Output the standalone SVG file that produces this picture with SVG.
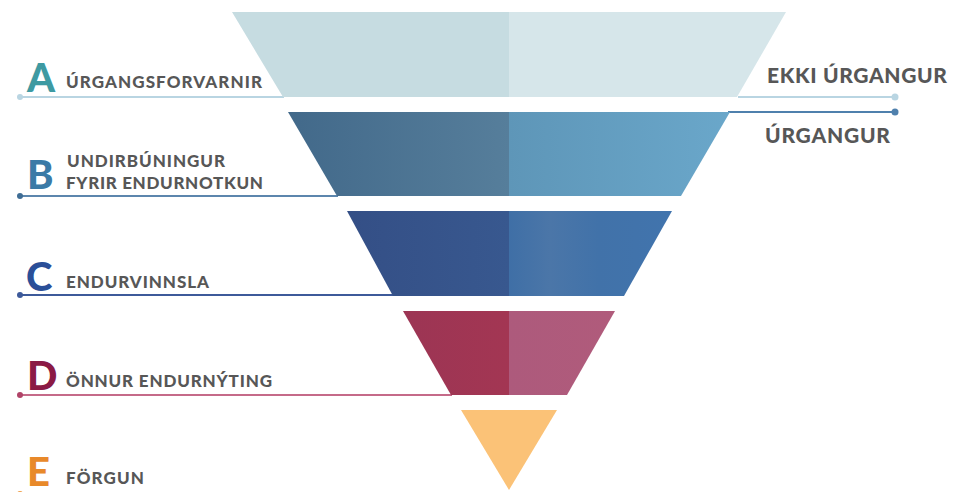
<svg xmlns="http://www.w3.org/2000/svg" width="954" height="492" viewBox="0 0 954 492">
<defs>
<linearGradient id="gBL" x1="0" x2="1" y1="0" y2="0"><stop offset="0" stop-color="#42698a"/><stop offset="1" stop-color="#567e9b"/></linearGradient>
<linearGradient id="gBR" x1="0" x2="1" y1="0" y2="0"><stop offset="0" stop-color="#5e96b8"/><stop offset="1" stop-color="#6aa7ca"/></linearGradient>
<linearGradient id="gCL" x1="0" x2="1" y1="0" y2="0"><stop offset="0" stop-color="#344f86"/><stop offset="1" stop-color="#38588f"/></linearGradient>
<linearGradient id="gCR" x1="0" x2="1" y1="0" y2="0"><stop offset="0" stop-color="#3f6fa6"/><stop offset="0.25" stop-color="#4b76a8"/><stop offset="0.55" stop-color="#4172a9"/><stop offset="1" stop-color="#4174ad"/></linearGradient>
<linearGradient id="gDL" x1="0" x2="1" y1="0" y2="0"><stop offset="0" stop-color="#9c3554"/><stop offset="1" stop-color="#a33653"/></linearGradient>
<linearGradient id="gDR" x1="0" x2="1" y1="0" y2="0"><stop offset="0" stop-color="#ad5a7c"/><stop offset="1" stop-color="#b05b7b"/></linearGradient>
</defs>
<style>
.lbl{font-family:Lato,"Open Sans","Liberation Sans",sans-serif;font-weight:900;fill:#575757;font-size:17px}
.big{font-family:Lato,"Liberation Sans",sans-serif;font-weight:900;font-size:40px}
.side{font-family:Lato,"Open Sans","Liberation Sans",sans-serif;font-weight:900;fill:#575757;font-size:21px}
.ln{stroke-width:2;fill:none}
</style>
<g id="connectors">
<line class="ln" x1="20" y1="97" x2="284" y2="97" stroke="#b9d5e2"/>
<circle cx="20" cy="97" r="3" fill="#b9d5e2"/>
<line class="ln" x1="738" y1="97" x2="895" y2="97" stroke="#b9d5e2"/>
<circle cx="895" cy="97" r="3.5" fill="#b9d5e2"/>
<line class="ln" x1="728" y1="112" x2="895" y2="112" stroke="#4f80ad"/>
<circle cx="895" cy="112" r="3.5" fill="#4f80ad"/>
<line class="ln" x1="20" y1="196" x2="338" y2="196" stroke="#5c86ad"/>
<circle cx="20" cy="196" r="3" fill="#3f6d95"/>
<line class="ln" x1="20" y1="295" x2="400" y2="295" stroke="#3d5a9a"/>
<circle cx="20" cy="295" r="3" fill="#3d5a9a"/>
<line class="ln" x1="20" y1="395" x2="452" y2="395" stroke="#c56a89"/>
<circle cx="20" cy="395" r="3" fill="#b04468"/>
<circle cx="20" cy="494" r="3" fill="#f0a04a"/>
</g>
<g id="layer-a">
<polygon points="232,12 509,12 509,97 283,97" fill="#c6dce1"/>
<polygon points="509,12 786,12 737,97 509,97" fill="#d6e6ea"/>
<text class="big" x="27" y="92" fill="#3e9aa2">A</text>
<text class="lbl" x="66" y="88" textLength="196" lengthAdjust="spacing">ÚRGANGSFORVARNIR</text>
</g>
<g id="layer-b">
<polygon points="288,112 509,112 509,196 337,196" fill="url(#gBL)"/>
<polygon points="509,112 730,112 681,196 509,196" fill="url(#gBR)"/>
<text class="big" x="27" y="189" fill="#3b7aa6">B</text>
<text class="lbl" x="67" y="167" textLength="158" lengthAdjust="spacing">UNDIRBÚNINGUR</text>
<text class="lbl" x="66" y="189" textLength="197" lengthAdjust="spacing">FYRIR ENDURNOTKUN</text>
</g>
<g id="layer-c">
<polygon points="347,211 509,211 509,296 393,296" fill="url(#gCL)"/>
<polygon points="509,211 672,211 624,296 509,296" fill="url(#gCR)"/>
<text class="big" x="26" y="291" fill="#2a4f98">C</text>
<text class="lbl" x="66" y="288" textLength="143" lengthAdjust="spacing">ENDURVINNSLA</text>
</g>
<g id="layer-d">
<polygon points="403,311 509,311 509,395 451,395" fill="url(#gDL)"/>
<polygon points="509,311 615,311 567,395 509,395" fill="url(#gDR)"/>
<text class="big" x="27" y="390" fill="#8b1a45">D</text>
<text class="lbl" x="66" y="387" textLength="206" lengthAdjust="spacing">ÖNNUR ENDURNÝTING</text>
</g>
<g id="layer-e">
<polygon points="461,410 557,410 509,490" fill="#fbc277"/>
<text class="big" x="27" y="486" fill="#e8892a">E</text>
<text class="lbl" x="66" y="484" textLength="78" lengthAdjust="spacing">FÖRGUN</text>
</g>
<g id="side-labels">
<text class="side" x="767" y="83" textLength="180" lengthAdjust="spacing">EKKI ÚRGANGUR</text>
<text class="side" x="765" y="143" textLength="125" lengthAdjust="spacing">ÚRGANGUR</text>
</g>
</svg>
